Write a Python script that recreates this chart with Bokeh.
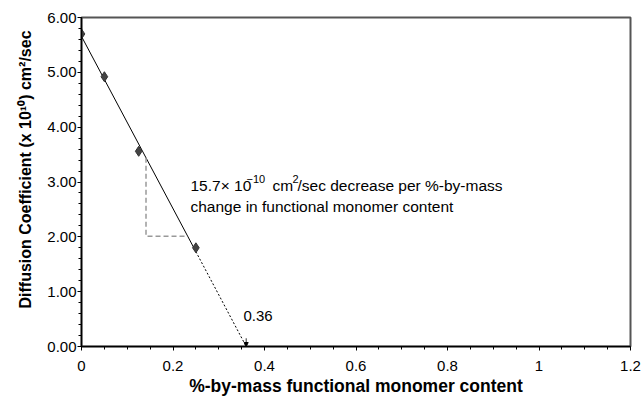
from bokeh.plotting import figure
from bokeh.models import FixedTicker, Label, Arrow, NormalHead, Title
from bokeh.embed import file_html
from bokeh.resources import INLINE

# data
content = [0.0, 0.05, 0.125, 0.25]
diffusion = [5.70, 4.92, 3.56, 1.80]
fit_slope = -15.7
fit_intercept = 5.655
x_intercept = 0.36
triangle_x = 0.141
triangle_y = 2.01
x_ticks = [0, 0.2, 0.4, 0.6, 0.8, 1.0, 1.2]
x_tick_labels = ["0", "0.2", "0.4", "0.6", "0.8", "1", "1.2"]
y_ticks = [0, 1, 2, 3, 4, 5, 6]

FONT = "Liberation Sans"

p = figure(width=641, height=398, output_backend="svg", toolbar_location=None,
           x_range=(0, 1.2), y_range=(0, 6.0),
           min_border_left=81, min_border_right=11, min_border_top=17,
           min_border_bottom=52)
p.xgrid.visible = False
p.ygrid.visible = False
p.background_fill_color = "white"
p.border_fill_color = "white"
p.outline_line_color = "#555555"
p.outline_line_width = 2

# axes
p.xaxis.ticker = FixedTicker(ticks=x_ticks,
                             minor_ticks=[i * 0.05 for i in range(25)])
p.xaxis.major_label_overrides = {t: l for t, l in zip(x_ticks, x_tick_labels)}
p.yaxis.ticker = FixedTicker(ticks=y_ticks,
                             minor_ticks=[i * 0.2 for i in range(31)])
p.yaxis.major_label_overrides = {t: f"{t:.2f}" for t in y_ticks}
for ax in (p.xaxis[0], p.yaxis[0]):
    ax.axis_line_color = "black"
    ax.axis_line_width = 1.5
    ax.major_tick_line_color = "black"
    ax.minor_tick_line_color = "black"
    ax.major_tick_in = 0
    ax.major_tick_out = 4
    ax.minor_tick_in = 0
    ax.minor_tick_out = 3
    ax.major_label_text_font = FONT
    ax.major_label_text_font_size = "15px"
    ax.major_label_text_color = "black"
    ax.axis_label_text_font = FONT
    ax.axis_label_text_font_style = "bold"
    ax.axis_label_text_color = "black"

p.xaxis.axis_label = "%-by-mass functional monomer content"
p.xaxis.axis_label_text_font_size = "17.5px"
p.xaxis.major_label_standoff = 10
p.xaxis.axis_label_standoff = 2
p.yaxis.major_label_standoff = 1

# y title as a left-side title, starting a little above the frame bottom
p.add_layout(Title(text="Diffusion Coefficient (x 10\u00b9\u2070) cm\u00b2/sec",
                   align="left", offset=38, standoff=22,
                   text_font=FONT, text_font_size="16px", text_font_style="bold",
                   text_color="black"), "left")

# fit line: solid over data range, dashed extrapolation to x-intercept
x_end = content[-1]
p.line([0, x_end], [fit_intercept, fit_intercept + fit_slope * x_end],
       line_color="black", line_width=1)
p.line([x_end, x_intercept], [fit_intercept + fit_slope * x_end, 0],
       line_color="black", line_width=1, line_dash="2 2")

# slope triangle
y_top = fit_intercept + fit_slope * triangle_x
x_right = (triangle_y - fit_intercept) / fit_slope
p.line([triangle_x, triangle_x, x_right], [y_top, triangle_y, triangle_y],
       line_color="#999999", line_width=1.5, line_dash="5 3")

# data points
p.scatter(content, diffusion, marker="diamond", size=10,
          fill_color="#444444", line_color="#333333")


def lab(x, y, text, size):
    p.add_layout(Label(x=x, y=y, x_units="screen", y_units="screen", text=text,
                       text_font=FONT, text_font_size=f"{size}px",
                       text_color="black", text_baseline="alphabetic",
                       text_align="left"))


# slope annotation (screen units relative to the plot frame)
AS = 15.5
lab(109, 161, "15.7\u00d7 10", AS)
lab(165, 168, "\u221210", 11)
lab(191, 161, "cm", AS)
lab(211, 168, "2", 11)
lab(216, 161, "/sec decrease per %-by-mass", AS)
lab(109, 140, "change in functional monomer content", AS)

# x-intercept label and arrow
lab(162, 31, "0.36", 15)
p.add_layout(Arrow(end=NormalHead(size=4, fill_color="black", line_color="black"),
                   x_start=x_intercept, y_start=0.15, x_end=x_intercept, y_end=0.0,
                   line_color="black", line_width=0.8))

open("out.html", "w").write(file_html(p, INLINE))
